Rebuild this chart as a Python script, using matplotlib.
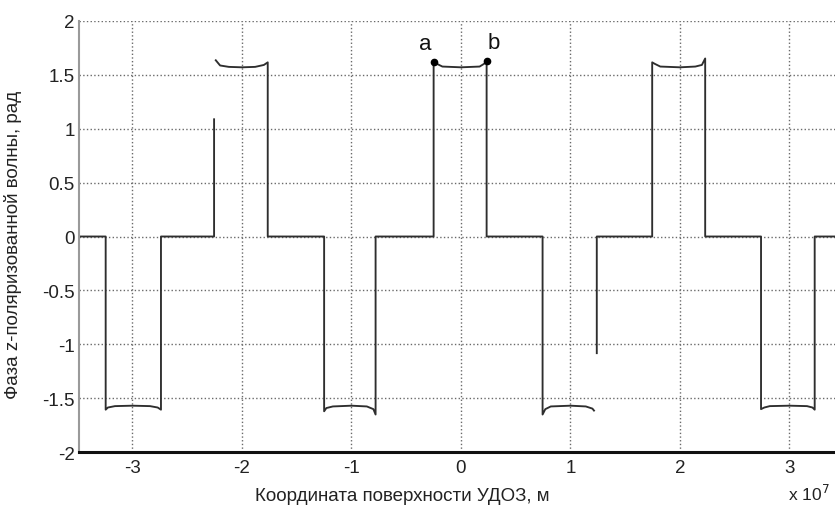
import matplotlib
matplotlib.use("Agg")
import matplotlib.pyplot as plt
import numpy as np

plt.rcParams['font.family'] = ['Liberation Sans', 'DejaVu Sans']

# Phase curve vertices (x in units of 1e7 m, y in rad); NaN marks a break in the line
curve_x = [-3.49, -3.245, -3.245, -3.225, -3.16, -3.0, -2.84, -2.77, -2.74, -2.74,
           -2.255, -2.255, np.nan,
           -2.245, -2.20, -2.12, -2.0, -1.88, -1.80, -1.765, -1.765,
           -1.25, -1.25, -1.23, -1.17, -1.0, -0.86, -0.80, -0.78, -0.78,
           -0.25, -0.25, -0.22, -0.17, 0.0, 0.17, 0.21, 0.234, 0.234,
           0.745, 0.745, 0.77, 0.82, 1.0, 1.14, 1.20, 1.22, np.nan,
           1.24, 1.24,
           1.746, 1.746, 1.77, 1.82, 2.0, 2.14, 2.20, 2.23, 2.23,
           2.74, 2.74, 2.77, 2.82, 3.0, 3.16, 3.21, 3.23, 3.23, 3.5]
curve_y = [0.0, 0.0, -1.605, -1.585, -1.572, -1.568, -1.572, -1.585, -1.605, 0.0,
           0.0, 1.095, np.nan,
           1.64, 1.585, 1.572, 1.568, 1.572, 1.59, 1.614, 0.0,
           0.0, -1.62, -1.59, -1.575, -1.568, -1.575, -1.60, -1.65, 0.0,
           0.0, 1.614, 1.60, 1.575, 1.568, 1.575, 1.60, 1.624, 0.0,
           0.0, -1.65, -1.60, -1.575, -1.568, -1.575, -1.595, -1.62, np.nan,
           -1.09, 0.0,
           0.0, 1.614, 1.60, 1.575, 1.568, 1.575, 1.59, 1.65, 0.0,
           0.0, -1.60, -1.585, -1.572, -1.568, -1.572, -1.585, -1.605, 0.0, 0.0]

point_x = [-0.25, 0.234]
point_y = [1.614, 1.624]
point_labels = ['a', 'b']

xticks = [-3, -2, -1, 0, 1, 2, 3]
yticks = [-2, -1.5, -1, -0.5, 0, 0.5, 1, 1.5, 2]
ytick_labels = ['-2', '-1.5', '-1', '-0.5', '0', '0.5', '1', '1.5', '2']

W, H = 835, 506
fig = plt.figure(figsize=(W / 100, H / 100), dpi=100)
x0px, scale_x = 461.0, 109.5
xlim = (-3.49, 3.5)
left_px = x0px + xlim[0] * scale_x
width_px = (xlim[1] - xlim[0]) * scale_x
top_px, bot_px = 21.7, 453.3
ax = fig.add_axes([left_px / W, (H - bot_px) / H, width_px / W, (bot_px - top_px) / H])

ax.set_xlim(*xlim)
ax.set_ylim(-2, 2)
ax.set_xticks(xticks)
ax.set_xticklabels([str(t) for t in xticks])
ax.set_yticks(yticks)
ax.set_yticklabels(ytick_labels)
ax.grid(True, linestyle=':', color='#6a6a6a', linewidth=1.0)
ax.set_axisbelow(True)
ax.tick_params(length=0, labelsize=13.5, colors='#222222')
ax.tick_params(axis='x', pad=5)
ax.tick_params(axis='y', pad=3)

for s in ['top', 'right']:
    ax.spines[s].set_visible(False)
ax.spines['bottom'].set_linewidth(2.2)
ax.spines['bottom'].set_color('#111111')
ax.spines['left'].set_linewidth(1.5)
ax.spines['left'].set_color('#9a9a9a')

ax.plot(curve_x, curve_y, color='#2e2e2e', linewidth=1.35, solid_capstyle='butt')
ax.plot(point_x, point_y, 'o', color='black', markersize=4.5)
for px, py, lab in zip(point_x, point_y, point_labels):
    ax.annotate(lab, (px, py), xytext=(-6 if lab == 'a' else 5, 6), textcoords='offset points',
                ha='center', va='bottom', fontsize=16, color='#111111')

fig.text(402 / W, 1 - 497 / H, 'Координата поверхности УДОЗ, м', ha='center', va='center',
         fontsize=13.5, color='#222222')
fig.text(13 / W, 1 - 245 / H, 'Фаза z-поляризованной волны, рад', rotation=90,
         ha='center', va='center', fontsize=13.5, color='#222222')
fig.text(788 / W, 1 - 494 / H, 'x 10$^7$', ha='left', va='center', fontsize=12.5, color='#222222')

fig.savefig('out.png', dpi=100)
